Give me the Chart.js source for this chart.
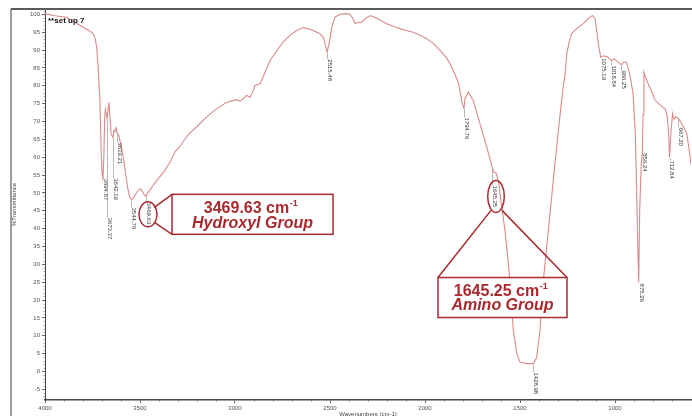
<!DOCTYPE html>
<html>
<head>
<meta charset="utf-8">
<script src="https://cdn.jsdelivr.net/npm/chart.js@4/dist/chart.umd.min.js"></script>
<style>
html,body{margin:0;padding:0;background:#fff;}
#wrap{width:692px;height:416px;position:relative;}
</style>
</head>
<body>
<div id="wrap"><canvas id="c" width="692" height="416"></canvas></div>
<script>
// ---- data ----
const wavenumbers = [4000,3950,3886,3850,3798,3770,3746,3735,3728,3720,3711,3705,3700,3694.87,3690,3686,3682,3673.37,3664,3658,3652,3647,3642.19,3637,3632,3626,3619.21,3612,3605,3595,3585,3575,3565,3555,3544.76,3535,3525,3510,3498,3488,3478,3469.63,3460,3445,3430,3400,3370,3340,3316,3290,3260,3237,3200,3149,3100,3044,2991,2974,2955,2938,2921,2905,2895,2868,2842,2816,2780,2747,2710,2675,2641,2620,2588,2553,2535,2526,2515.48,2505,2490,2474,2447,2420,2395,2385,2377,2368,2351,2333,2310,2289,2272,2240,2202,2160,2132,2100,2062,2020,1991,1955,1921,1890,1868,1845,1825,1812,1804,1794.76,1789,1772,1746,1711,1675,1649,1645.25,1637,1626,1614,1596,1579,1553,1535,1517,1500,1465,1428.98,1412,1395,1377,1351,1335,1325,1298,1289,1272,1263,1254,1240,1228,1202,1167,1141,1119,1105,1095,1088,1075.19,1060,1040,1025,1018.84,1005,990,975,966.25,955,940,923,905,893,885,880,875.26,870,862,856.24,852,848,840,825,810,790,760,735,725,718,712.84,705,697,690,680,667.2,658,640,622,610,600];
const transmittance = [100.2,99.6,99.2,98.0,96.4,95.5,94.6,93.0,90.8,85.0,75.9,63.0,56.0,53.5,61.0,71.0,73.5,70.8,75.4,71.0,66.5,66.0,65.5,67.5,67.2,68.2,66.5,66.2,64.5,62.0,59.0,55.0,51.5,49.0,48.1,48.6,49.4,50.8,51.2,50.5,49.5,49.0,50.0,51.0,52.2,54.2,56.3,58.8,61.5,63.0,65.3,66.8,68.6,71.3,73.4,75.4,76.1,75.7,76.5,77.3,76.8,78.5,80.1,80.6,83.8,87.1,89.8,92.2,94.2,95.5,96.3,96.0,95.5,94.6,93.5,91.8,89.4,91.8,96.5,99.2,100.0,100.2,100.0,99.3,98.5,97.4,97.8,97.8,99.0,99.6,99.4,98.5,97.4,96.5,96.0,95.5,95.0,94.0,93.2,91.8,89.9,88.0,86.2,83.5,81.0,77.5,75.0,73.6,76.5,78.2,75.9,69.4,62.8,57.7,57.0,55.8,55.5,53.5,46.0,39.5,25.5,11.5,5.0,2.6,2.2,2.2,4.0,11.5,25.5,39.5,48.0,53.5,67.5,72.0,80.0,83.0,89.0,92.5,94.6,96.0,97.4,98.8,99.7,98.8,95.0,91.8,88.0,88.4,88.1,87.3,87.0,87.6,86.9,86.2,85.9,86.6,86.6,83.4,77.8,66.6,48.0,35.0,25.0,45.0,58.0,61.0,72.0,83.8,82.5,80.5,78.7,76.0,74.5,73.5,71.5,66.6,60.0,67.5,72.2,70.6,71.3,70.9,70.2,68.5,66.6,62.0,58.0];
const xTickValues = [4000,3500,3000,2500,2000,1500,1000];
const yTickValues = [-5,0,5,10,15,20,25,30,35,40,45,50,55,60,65,70,75,80,85,90,95,100];
const peakWavenumbers = [3694.87,3673.37,3642.19,3619.21,3544.76,3469.63,2515.48,1794.76,1645.25,1428.98,1075.19,1018.84,966.25,875.26,856.24,712.84,667.20];
const sampleTitle = "**set up 7";
const callouts = [
  {value: "3469.63", unit: " cm", group: "Hydroxyl Group"},
  {value: "1645.25", unit: " cm", group: "Amino Group"}
];

// ---- layout (annotation placement, in axis units) ----
const layout = {
  // top of each rotated peak label, in %T units (same order as peakWavenumbers)
  peakLabelTop: [54.0,43.1,54.1,64.1,45.9,47.3,87.4,71.1,52.1,-0.3,87.7,85.7,84.3,24.6,61.1,59.1,68.3],
  callout1: {ell:[3457.9,44.0,9,12.5], box:[3331.6,2484.2,49.6,38.4], l1:[3426.3,45.9], l2:[3426.3,41.8], base1:213, base2:227.5},
  callout2: {ell:[1626.3,49.0,8.3,16], box:[1931.6,1252.6,26.3,15.1], l1:[1652.6,45.1], l2:[1594.7,45.1], base1:295.5, base2:309.5}
};

const FONT = "'Liberation Sans', Arial, sans-serif";
const RED = '#a82a2e';

const overlay = {
  id: 'overlay',
  beforeDraw(chart) {
    const ctx = chart.ctx;
    ctx.save();
    ctx.fillStyle = '#fff';
    ctx.fillRect(0, 0, chart.width, chart.height);
    ctx.restore();
  },
  afterDraw(chart) {
    const ctx = chart.ctx;
    const xs = chart.scales.x, ys = chart.scales.y;
    const px = v => xs.getPixelForValue(v);
    const py = v => ys.getPixelForValue(v);
    const area = chart.chartArea;
    ctx.save();

    // outer frame (top and left)
    ctx.strokeStyle = '#5a5a5a';
    ctx.lineWidth = 2;
    ctx.beginPath();
    ctx.moveTo(11, 9); ctx.lineTo(chart.width, 9);
    ctx.stroke();
    ctx.lineWidth = 1.2;
    ctx.beginPath();
    ctx.moveTo(11, 9); ctx.lineTo(11, chart.height);
    ctx.stroke();

    // minor ticks
    ctx.strokeStyle = '#777';
    ctx.lineWidth = 0.6;
    ctx.beginPath();
    for (let v = -7; v <= 101; v++) {
      if (v % 5 === 0) continue;
      const y = Math.round(py(v)) + 0.5;
      ctx.moveTo(area.left - 1.5, y); ctx.lineTo(area.left, y);
    }
    for (let v = 700; v <= 4000; v += 100) {
      if (v % 500 === 0) continue;
      const x = Math.round(px(v)) + 0.5;
      ctx.moveTo(x, area.bottom); ctx.lineTo(x, area.bottom + 2);
    }
    ctx.stroke();

    // sample title
    ctx.fillStyle = '#111';
    ctx.font = 'bold 8px ' + FONT;
    ctx.textAlign = 'left';
    ctx.textBaseline = 'middle';
    ctx.fillText(sampleTitle, 48, 21);

    // peak markers
    peakWavenumbers.forEach((w, i) => {
      const idx = wavenumbers.indexOf(w);
      const curveY = py(transmittance[idx]);
      const topY = py(layout.peakLabelTop[i]);
      const x = px(w);
      if (topY > curveY + 2) {
        ctx.strokeStyle = '#9a9a9a';
        ctx.lineWidth = 0.7;
        ctx.beginPath();
        ctx.moveTo(Math.round(x) + 0.5, curveY + 1);
        ctx.lineTo(Math.round(x) + 0.5, topY);
        ctx.stroke();
      }
      ctx.save();
      ctx.translate(x + 2.5, topY);
      ctx.rotate(Math.PI / 2);
      ctx.fillStyle = '#333';
      ctx.font = '6px ' + FONT;
      ctx.textAlign = 'left';
      ctx.textBaseline = 'middle';
      ctx.fillText(w.toFixed(2), 0, 0);
      ctx.restore();
    });

    // callouts
    function drawCallout(c, cfg) {
      const [ew, et, rx, ry] = cfg.ell;
      const bx1 = px(cfg.box[0]), bx2 = px(cfg.box[1]);
      const by1 = py(cfg.box[2]), by2 = py(cfg.box[3]);
      ctx.strokeStyle = RED;
      ctx.lineWidth = 1.5;
      ctx.beginPath();
      ctx.ellipse(px(ew), py(et), rx, ry, 0, 0, Math.PI * 2);
      ctx.stroke();
      ctx.fillStyle = '#fff';
      ctx.fillRect(bx1, by1, bx2 - bx1, by2 - by1);
      ctx.strokeRect(bx1, by1, bx2 - bx1, by2 - by1);
      const isLeft = px(cfg.l1[0]) < bx1;
      ctx.beginPath();
      if (isLeft) {
        ctx.moveTo(px(cfg.l1[0]), py(cfg.l1[1])); ctx.lineTo(bx1, by1);
        ctx.moveTo(px(cfg.l2[0]), py(cfg.l2[1])); ctx.lineTo(bx1, by2);
      } else {
        ctx.moveTo(px(cfg.l1[0]), py(cfg.l1[1])); ctx.lineTo(bx1, by1);
        ctx.moveTo(px(cfg.l2[0]), py(cfg.l2[1])); ctx.lineTo(bx2, by1);
      }
      ctx.stroke();
      const cx = (bx1 + bx2) / 2;
      ctx.fillStyle = RED;
      ctx.textBaseline = 'alphabetic';
      ctx.textAlign = 'left';
      const main = c.value + c.unit;
      ctx.font = 'bold 16px ' + FONT;
      const w1 = ctx.measureText(main).width;
      ctx.font = 'bold 9px ' + FONT;
      const w2 = ctx.measureText('-1').width;
      const x0 = cx - (w1 + w2) / 2 - 2;
      ctx.font = 'bold 16px ' + FONT;
      ctx.fillText(main, x0, cfg.base1);
      ctx.font = 'bold 9px ' + FONT;
      ctx.fillText('-1', x0 + w1 + 0.5, cfg.base1 - 7);
      ctx.font = 'italic bold 16px ' + FONT;
      ctx.textAlign = 'center';
      ctx.fillText(c.group, cx, cfg.base2);
    }
    drawCallout(callouts[0], layout.callout1);
    drawCallout(callouts[1], layout.callout2);

    ctx.restore();
  }
};

new Chart(document.getElementById('c'), {
  type: 'line',
  data: {
    datasets: [{
      label: 'set up 7',
      data: wavenumbers.map((w, i) => ({x: w, y: transmittance[i]})),
      borderColor: '#db8a8a',
      borderWidth: 1.1,
      pointRadius: 0,
      tension: 0,
      fill: false
    }]
  },
  options: {
    responsive: false,
    animation: false,
    devicePixelRatio: 1,
    layout: {padding: {top: 9, left: 0, right: 1, bottom: 0}},
    plugins: {legend: {display: false}, tooltip: {enabled: false}},
    scales: {
      x: {
        type: 'linear',
        reverse: true,
        min: 600,
        max: 4000,
        afterFit(s) { s.height = 16; },
        afterBuildTicks(s) { s.ticks = xTickValues.map(v => ({value: v})); },
        ticks: {
          font: {size: 6, family: FONT},
          color: '#555',
          padding: 2,
          maxRotation: 0,
          autoSkip: false,
          callback: v => String(v)
        },
        grid: {drawOnChartArea: false, drawTicks: true, tickLength: 3, color: '#666'},
        border: {display: true, color: '#444', width: 1.5},
        title: {display: true, text: 'Wavenumbers (cm-1)', font: {size: 6, family: FONT}, color: '#444', padding: {top: 0, bottom: -2}}
      },
      y: {
        type: 'linear',
        min: -8,
        max: 101.5,
        afterFit(s) { s.width = 45; },
        afterBuildTicks(s) { s.ticks = yTickValues.map(v => ({value: v})); },
        ticks: {
          font: {size: 6, family: FONT},
          color: '#555',
          padding: 2,
          autoSkip: false,
          callback: v => String(v)
        },
        grid: {drawOnChartArea: false, drawTicks: true, tickLength: 3, color: '#666'},
        border: {display: true, color: '#444', width: 1},
        title: {display: true, text: '%Transmittance', font: {size: 6, family: FONT}, color: '#444', padding: {top: 11, bottom: 0}}
      }
    }
  },
  plugins: [overlay]
});
</script>
</body>
</html>
